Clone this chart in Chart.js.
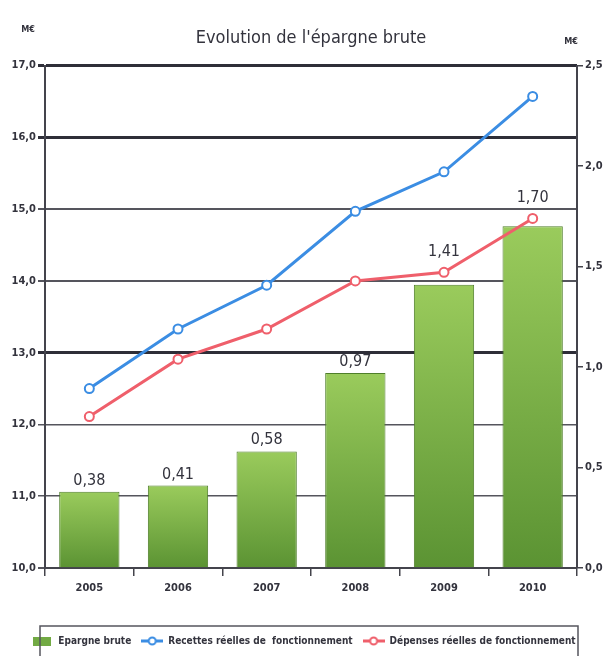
<!DOCTYPE html>
<html>
<head>
<meta charset="utf-8">
<script src="https://cdn.jsdelivr.net/npm/chart.js"></script>
<style>
  html, body { margin: 0; padding: 0; background: #fff; }
</style>
</head>
<body>
<canvas id="epargne" width="607" height="656"></canvas>
<script>
const years = ['2005', '2006', '2007', '2008', '2009', '2010'];
const epargneBrute = [0.38, 0.41, 0.58, 0.97, 1.41, 1.70];        // right axis, M€
const recettes = [12.50, 13.33, 13.94, 14.97, 15.52, 16.57];      // left axis, M€
const depenses = [12.11, 12.91, 13.33, 14.00, 14.12, 14.87];      // left axis, M€
const leftRange = [10, 17];
const rightRange = [0, 2.5];

const FONT = '"Liberation Sans Narrow", "DejaVu Sans Condensed", "Arial Narrow", sans-serif';
const INK = '#33333d';
const BLUE = '#3b8de3';
const RED = '#ef5f6b';

Chart.defaults.font.family = FONT;
Chart.defaults.color = INK;

const comma = (v, d) => v.toFixed(d).replace('.', ',');

// heavier rules at 17, 16 and 13
const gridWidth = { 17: 3, 16: 3, 15: 2, 14: 2, 13: 3, 12: 1.5, 11: 1.5, 10: 2 };

function barFill(ctx) {
  const chart = ctx.chart;
  const area = chart.chartArea;
  if (!area || ctx.type !== 'data') return '#7ab648';
  const top = chart.scales.y2.getPixelForValue(ctx.raw);
  const g = chart.ctx.createLinearGradient(0, top, 0, area.bottom);
  g.addColorStop(0, '#9acb5c');
  g.addColorStop(1, '#5b9333');
  return g;
}

function lineIcon(color) {
  const c = document.createElement('canvas');
  c.width = 22; c.height = 10;
  const g = c.getContext('2d');
  g.strokeStyle = color;
  g.lineWidth = 3;
  g.beginPath(); g.moveTo(0, 5); g.lineTo(22, 5); g.stroke();
  g.fillStyle = '#fff';
  g.lineWidth = 2;
  g.beginPath(); g.arc(11, 5, 3.5, 0, Math.PI * 2); g.fill(); g.stroke();
  return c;
}

function boxIcon() {
  const c = document.createElement('canvas');
  c.width = 18; c.height = 9;
  const g = c.getContext('2d');
  g.fillStyle = '#72aa44';
  g.fillRect(0, 0, 18, 9);
  return c;
}

const legendIcons = [boxIcon(), lineIcon(BLUE), lineIcon(RED)];

// values written above the bars, lifted over the red line when it sits on the bar
const valueLabels = {
  id: 'valueLabels',
  afterDatasetsDraw(chart) {
    const { ctx } = chart;
    const bars = chart.getDatasetMeta(0).data;
    const red = chart.getDatasetMeta(2).data;
    ctx.save();
    ctx.font = '16px ' + FONT;
    ctx.fillStyle = INK;
    ctx.textAlign = 'center';
    ctx.textBaseline = 'alphabetic';
    bars.forEach((bar, i) => {
      let y = bar.y - 7;
      if (red[i].y < bar.y && bar.y - red[i].y < 40) y = red[i].y - 16;
      ctx.fillText(comma(epargneBrute[i], 2), bar.x, y);
    });
    ctx.restore();
  }
};

// unit captions and the frame round the legend
const frameAndUnits = {
  id: 'frameAndUnits',
  afterDraw(chart) {
    const { ctx, chartArea, legend } = chart;
    ctx.save();
    ctx.font = 'bold 9px ' + FONT;
    ctx.fillStyle = INK;
    ctx.textAlign = 'center';
    ctx.textBaseline = 'middle';
    ctx.fillText('M€', chartArea.left - 17, chartArea.top - 36);
    ctx.fillText('M€', chartArea.right - 6, chartArea.top - 24);
    ctx.strokeStyle = '#55555d';
    ctx.lineWidth = 1.5;
    ctx.strokeRect(chartArea.left - 5, legend.top, chartArea.right - chartArea.left + 6, legend.height + 20);
    ctx.restore();
  }
};

new Chart(document.getElementById('epargne'), {
  data: {
    labels: years,
    datasets: [
      {
        type: 'bar',
        label: 'Epargne brute',
        data: epargneBrute,
        yAxisID: 'y2',
        backgroundColor: barFill,
        borderColor: '#4f7f2a',
        borderWidth: 1,
        barPercentage: 0.68,
        categoryPercentage: 1,
        order: 1
      },
      {
        type: 'line',
        label: 'Recettes réelles de  fonctionnement',
        data: recettes,
        yAxisID: 'y',
        borderColor: BLUE,
        borderWidth: 3,
        pointRadius: 4.5,
        pointBorderWidth: 2,
        pointBackgroundColor: '#fff',
        pointBorderColor: BLUE,
        tension: 0,
        order: 0
      },
      {
        type: 'line',
        label: 'Dépenses réelles de fonctionnement',
        data: depenses,
        yAxisID: 'y',
        borderColor: RED,
        borderWidth: 3,
        pointRadius: 4.5,
        pointBorderWidth: 2,
        pointBackgroundColor: '#fff',
        pointBorderColor: RED,
        tension: 0,
        order: 0
      }
    ]
  },
  options: {
    responsive: false,
    animation: false,
    layout: { padding: 0 },
    scales: {
      x: {
        grid: { offset: true, drawOnChartArea: false, tickLength: 8, color: '#44444c', lineWidth: 1.5 },
        border: { color: '#44444c', width: 2 },
        ticks: { font: { size: 11, weight: 'bold' }, padding: 6 },
        afterFit: (scale) => { scale.height = 58; }
      },
      y: {
        position: 'left',
        min: leftRange[0],
        max: leftRange[1],
        ticks: {
          stepSize: 1,
          padding: 2,
          font: { size: 11, weight: 'bold' },
          callback: (v) => comma(v, 1)
        },
        grid: {
          tickLength: 7,
          lineWidth: (ctx) => gridWidth[ctx.tick.value] || 1.5,
          color: (ctx) => (gridWidth[ctx.tick.value] >= 3 ? '#2e2e38' : '#55555d')
        },
        border: { color: '#44444c', width: 2 },
        afterFit: (scale) => { scale.width = 45; }
      },
      y2: {
        position: 'right',
        min: rightRange[0],
        max: rightRange[1],
        ticks: {
          stepSize: 0.5,
          padding: 2,
          font: { size: 11, weight: 'bold' },
          callback: (v) => comma(v, 1)
        },
        grid: { drawOnChartArea: false, tickLength: 6, color: '#44444c', lineWidth: 1.5 },
        border: { color: '#44444c', width: 2 },
        afterFit: (scale) => { scale.width = 30; }
      }
    },
    plugins: {
      title: {
        display: true,
        text: "Evolution de l'épargne brute",
        fullSize: false,
        color: INK,
        font: { size: 18, weight: 'normal', lineHeight: 1.2 },
        padding: { top: 28, bottom: 16 }
      },
      legend: {
        position: 'bottom',
        labels: {
          usePointStyle: true,
          pointStyleWidth: 22,
          padding: 10,
          color: INK,
          font: { size: 10, weight: 'bold' },
          sort: (a, b) => a.datasetIndex - b.datasetIndex,
          generateLabels: (chart) => {
            const items = Chart.defaults.plugins.legend.labels.generateLabels(chart);
            items.forEach((it) => { it.pointStyle = legendIcons[it.datasetIndex]; });
            return items;
          }
        }
      },
      tooltip: { enabled: false }
    }
  },
  plugins: [valueLabels, frameAndUnits]
});
</script>
</body>
</html>
